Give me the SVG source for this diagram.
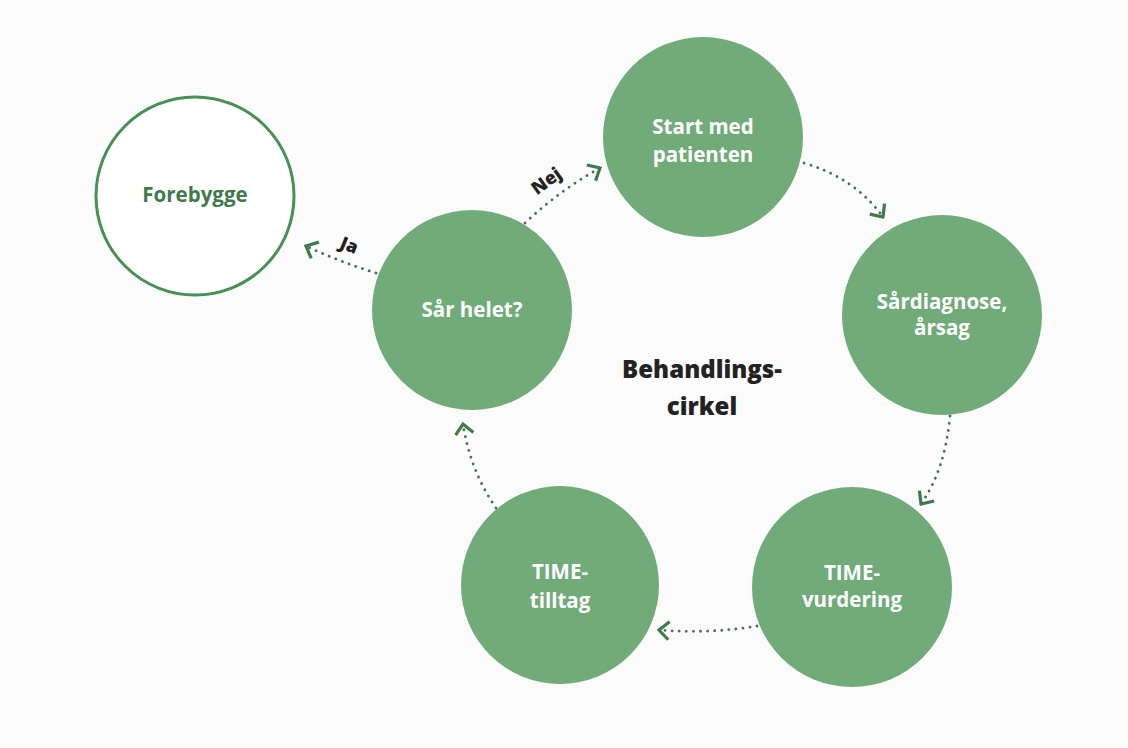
<svg xmlns="http://www.w3.org/2000/svg" width="1128" height="748" viewBox="0 0 1128 748">
<style>
.node{fill:#70ab79}
.lbl{font-family:"Open Sans","Noto Sans",sans-serif;font-weight:700;font-size:20.5px;fill:#ffffff;text-anchor:middle}
.conn{fill:none;stroke:#4a6d55;stroke-width:2.8;stroke-dasharray:0.1 7;stroke-linecap:round}
.edge{font-family:"Open Sans","Noto Sans",sans-serif;font-weight:800;font-size:18px;fill:#222;text-anchor:middle}
.ctr{font-family:"Open Sans","Noto Sans",sans-serif;font-weight:800;font-size:24px;fill:#222;text-anchor:middle}
</style>
<defs>
<marker id="arr" viewBox="-13 -11 15 22" markerWidth="15" markerHeight="22" refX="0" refY="0" orient="auto" markerUnits="userSpaceOnUse">
<polyline points="-10,-9 0,0 -10,9" fill="none" stroke="#3f7a4c" stroke-width="3.2" stroke-linejoin="miter"/>
</marker>
</defs>
<rect width="1128" height="748" fill="#fbfbfb"/>
<g id="connectors">
<path class="conn" d="M525,223 Q560,190 600,168" marker-end="url(#arr)"/>
<path class="conn" d="M376,273 Q340,262 306,246" marker-end="url(#arr)"/>
<path class="conn" d="M804,163 Q855,178 883,217" marker-end="url(#arr)"/>
<path class="conn" d="M950,416 Q945,470 921,504" marker-end="url(#arr)"/>
<path class="conn" d="M757,626 Q710,634 659,630" marker-end="url(#arr)"/>
<path class="conn" d="M496,508 Q470,470 463,424" marker-end="url(#arr)"/>
<text class="edge" transform="translate(550,186) rotate(-36)">Nej</text>
<text class="edge" transform="translate(347,251) rotate(22)">Ja</text>
</g>
<g id="forebygge">
<circle cx="195" cy="196" r="99" fill="#ffffff" stroke="#459156" stroke-width="3"/>
<text class="lbl" x="195" y="202" style="fill:#3f7a4c">Forebygge</text>
</g>
<g id="start">
<circle class="node" cx="703" cy="137" r="100"/>
<text class="lbl" x="703" y="134">Start med</text>
<text class="lbl" x="703" y="162">patienten</text>
</g>
<g id="sardiagnose">
<circle class="node" cx="942" cy="315" r="100"/>
<text class="lbl" x="942" y="309">Sårdiagnose,</text>
<text class="lbl" x="942" y="335">årsag</text>
</g>
<g id="vurdering">
<circle class="node" cx="852" cy="587" r="100"/>
<text class="lbl" x="852" y="580">TIME-</text>
<text class="lbl" x="852" y="607">vurdering</text>
</g>
<g id="tilltag">
<circle class="node" cx="560" cy="585" r="99"/>
<text class="lbl" x="560" y="579">TIME-</text>
<text class="lbl" x="560" y="608">tilltag</text>
</g>
<g id="sarhelet">
<circle class="node" cx="472" cy="310" r="100"/>
<text class="lbl" x="472" y="317">Sår helet?</text>
</g>
<g id="center">
<text class="ctr" x="702" y="378">Behandlings-</text>
<text class="ctr" x="702" y="415">cirkel</text>
</g>
</svg>
